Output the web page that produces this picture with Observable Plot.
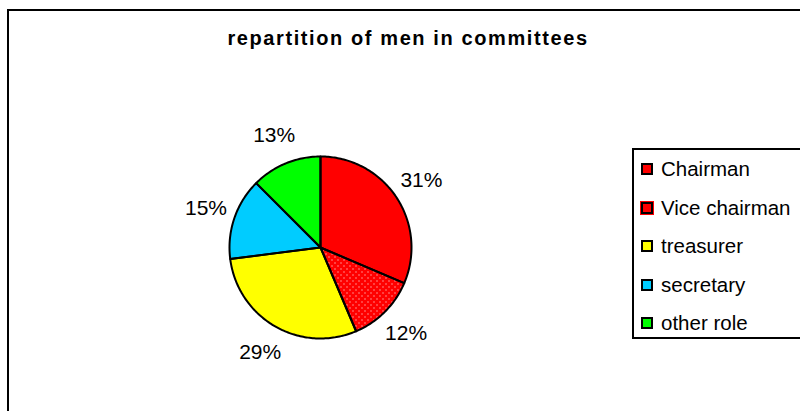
<!DOCTYPE html>
<html>
<head>
<meta charset="utf-8">
<script src="https://cdn.jsdelivr.net/npm/d3@7"></script>
<script src="https://cdn.jsdelivr.net/npm/@observablehq/plot@0.6"></script>
<style>
  html, body { margin: 0; padding: 0; background: #fff; }
  body { width: 800px; height: 411px; overflow: hidden; position: relative;
         font-family: Arial, "Liberation Sans", sans-serif; }
  #frame { position: absolute; left: 7px; top: 9px; width: 1000px; height: 1000px;
           border: 2px solid #000; box-sizing: border-box; }
  #title { position: absolute; left: 8px; top: 28px; width: 800px; text-align: center;
           font-weight: bold; font-size: 20px; line-height: 20px; letter-spacing: 1.6px; color: #000; }
  #chart { position: absolute; left: 0; top: 0; }
  #legend { position: absolute; left: 632px; top: 148px; width: 220px; height: 191px;
            border: 2px solid #000; box-sizing: border-box; background: #fff; }
  .item { height: 38.5px; display: flex; align-items: center; font-size: 20.5px; color: #000; }
  .sw { width: 12px; height: 12px; box-sizing: border-box; border: 2px solid #000;
        margin-left: 7px; margin-right: 8px; flex: none; }
</style>
</head>
<body>
<div id="frame"></div>
<div id="title">repartition of men in committees</div>
<div id="chart"></div>
<div id="legend"></div>
<script>
const roles = ["Chairman", "Vice chairman", "treasurer", "secretary", "other role"];
const shares = [31.4, 12.2, 29.4, 14.5, 12.5];
const labels = ["31%", "12%", "29%", "15%", "13%"];
const colors = ["#FF0000", "#FF0000", "#FFFF00", "#00CCFF", "#00FF00"];
const patterned = ["Vice chairman"];

const title = "repartition of men in committees";

// build slice outlines from the values via d3.pie
const arcs = d3.pie().sort(null).value((d, i) => shares[i])(roles);
const slicePts = [];
const labelPts = [];
arcs.forEach((a, i) => {
  const role = roles[i];
  slicePts.push({role, x: 0, y: 0});
  const n = Math.max(2, Math.ceil((a.endAngle - a.startAngle) / (Math.PI / 180)));
  for (let k = 0; k <= n; k++) {
    const t = a.startAngle + (a.endAngle - a.startAngle) * k / n;
    slicePts.push({role, x: Math.sin(t), y: Math.cos(t)});
  }
  const m = (a.startAngle + a.endAngle) / 2;
  labelPts.push({role, label: labels[i], x: 1.33 * Math.sin(m), y: 1.33 * Math.cos(m)});
});

const plot = Plot.plot({
  width: 800,
  height: 411,
  marginLeft: 229,
  marginRight: 389,
  marginTop: 156,
  marginBottom: 73,
  x: {domain: [-1, 1], axis: null},
  y: {domain: [-1, 1], axis: null},
  color: {domain: roles, range: colors},
  style: {fontFamily: "Arial, 'Liberation Sans', sans-serif", background: "transparent"},
  marks: [
    Plot.line(slicePts, {x: "x", y: "y", z: "role", fill: "role", stroke: "none", curve: "linear-closed"}),
    Plot.line(slicePts.filter(d => patterned.includes(d.role)),
      {x: "x", y: "y", z: "role", fill: "url(#dots)", stroke: "none", curve: "linear-closed"}),
    Plot.line(slicePts, {x: "x", y: "y", z: "role", fill: "none", stroke: "#000", strokeWidth: 2,
      strokeLinejoin: "round", curve: "linear-closed"}),
    Plot.text(labelPts, {x: "x", y: "y", text: "label", fontSize: 21, fill: "#000"})
  ]
});

// dotted pattern for the "Vice chairman" slice
const svg = d3.select(plot);
const defs = svg.insert("defs", ":first-child");
const pat = defs.append("pattern").attr("id", "dots").attr("patternUnits", "userSpaceOnUse")
  .attr("width", 6).attr("height", 6);
pat.append("rect").attr("x", 1).attr("y", 1).attr("width", 1).attr("height", 1).attr("fill", "#fff");
pat.append("rect").attr("x", 4).attr("y", 4).attr("width", 1).attr("height", 1).attr("fill", "#fff");

document.getElementById("chart").appendChild(plot);
document.getElementById("title").textContent = title;

const legend = d3.select("#legend");
roles.forEach((r, i) => {
  const row = legend.append("div").attr("class", "item");
  const sw = row.append("div").attr("class", "sw").style("background", colors[i]);
  if (patterned.includes(r)) sw.style("outline", "1px solid #FF0000");
  row.append("span").text(r);
});
</script>
</body>
</html>
